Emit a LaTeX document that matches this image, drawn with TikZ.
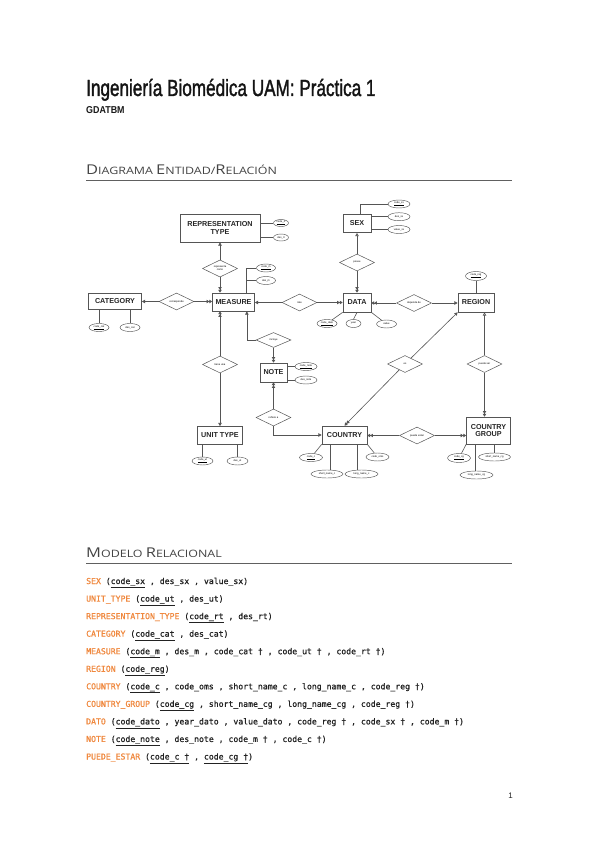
\documentclass[tikz,border=0pt]{standalone}
\usepackage{fontspec}
\setmainfont{Liberation Sans}
\setmonofont[FakeBold=0.9]{DejaVu Sans Mono}
\newfontfamily\headfont{Open Sans}
\newfontfamily\titlefont[FakeBold=1.8]{Liberation Sans}
\usetikzlibrary{shapes.geometric,arrows.meta}
\definecolor{kw}{HTML}{F0883E}
\definecolor{txt}{HTML}{222222}
\definecolor{ln}{HTML}{555555}
\definecolor{hd}{HTML}{444444}
\newcommand{\myul}[1]{\underline{#1}}
\newcommand{\schd}[2]{{\fontsize{13.5}{14}\selectfont #1}{\fontsize{10.2}{11}\selectfont #2}}
\begin{document}
\begin{tikzpicture}[x=1pt,y=-1pt,
  ent/.style={draw=ln, line width=0.7pt, fill=white, inner sep=0pt, font=\fontsize{7.2}{7.8}\selectfont\bfseries, text=black!85, align=center},
  att/.style={ellipse, draw=ln, line width=0.45pt, fill=white, inner sep=0pt, minimum height=8pt, minimum width=20pt, font=\fontsize{2.6}{3}\selectfont},
  rel/.style={diamond, draw=ln, line width=0.5pt, fill=white, inner sep=0pt, minimum width=35pt, minimum height=17pt, font=\fontsize{2.6}{3}\selectfont, align=center},
  con/.style={draw=ln, line width=0.6pt},
  toone/.style={con, -{Triangle[length=3.2pt,width=3.4pt]}},
  toopen/.style={con, -{Triangle[open,length=3.2pt,width=3.4pt]}},
  tomany/.style={con, -{Triangle[length=2.8pt,width=3.4pt]Triangle[length=2.8pt,width=3.4pt]}},
  rm/.style={anchor=base west, inner sep=0pt, font=\ttfamily\fontsize{8.15}{9}\selectfont, text=txt},
  rule/.style={draw=gray!75!black, line width=0.8pt},
]
\fill[white] (0,0) rectangle (599,848);
\useasboundingbox (0,0) rectangle (599,848);

% ---------- header ----------
\node[anchor=base west, inner sep=0pt, font=\titlefont\fontsize{23.3}{24}\selectfont, text=black!92] (title) at (86,96)
  {\scalebox{0.735}[1]{Ingeniería Biomédica UAM: Práctica 1}};
\node[anchor=base west, inner sep=0pt, font=\fontsize{10}{11}\selectfont\bfseries, text=black!90] (sub) at (86,113.5)
  {\scalebox{0.89}[1]{GDATBM}};
\node[anchor=base west, inner sep=0pt, font=\headfont, text=hd] (h1) at (86,174.5)
  {\scalebox{1.22}[1]{\schd{D}{IAGRAMA} \schd{E}{NTIDAD/}\schd{R}{ELACIÓN}}};
\draw[rule] (86,180) -- (512,180);

% ---------- entities ----------
\node[ent, minimum width=80pt, minimum height=28pt] (rt) at (220,228) {REPRESENTATION\\TYPE};
\node[ent, minimum width=28pt, minimum height=18pt] (sx) at (357,223.5) {SEX};
\node[ent, minimum width=53pt, minimum height=16pt] (cat) at (115,301) {CATEGORY};
\node[ent, minimum width=42pt, minimum height=18pt] (ms) at (233.5,302) {MEASURE};
\node[ent, minimum width=28pt, minimum height=19pt] (dt) at (357,302.5) {DATA};
\node[ent, minimum width=36pt, minimum height=19pt] (rg) at (476,302.5) {REGION};
\node[ent, minimum width=27pt, minimum height=19pt] (nt) at (273.5,372.5) {NOTE};
\node[ent, minimum width=45pt, minimum height=18pt] (ut) at (220,435.5) {UNIT TYPE};
\node[ent, minimum width=45pt, minimum height=18pt] (ct) at (344.5,435) {COUNTRY};
\node[ent, minimum width=44pt, minimum height=27pt] (cg) at (488.5,430.5) {COUNTRY\\GROUP};

% ---------- relationships ----------
\node[rel] (rc) at (220,268.5) {representa\\como};
\node[rel] (cor) at (176.5,301.5) {corresponde};
\node[rel] (rate) at (299.5,302.5) {rate};
\node[rel] (ps) at (357,262.5) {posee};
\node[rel] (dep) at (414,303) {depende de};
\node[rel, minimum height=15pt] (inc) at (273.5,340) {incluye};
\node[rel] (tu) at (220,364.5) {tiene una};
\node[rel] (ref) at (273.5,417.5) {refiere a};
\node[rel] (es) at (405,364) {es};
\node[rel] (pser) at (484.5,364) {puede ser};
\node[rel] (pe) at (417,435.5) {puede estar};

% ---------- attributes ----------
\node[att, minimum width=15pt, minimum height=7pt] (crt) at (281,223) {\myul{code\_rt}};
\node[att, minimum width=15pt, minimum height=7pt] (drt) at (281,237.5) {des\_rt};
\node[att, minimum width=19pt] (cm) at (266,268) {\myul{code\_m}};
\node[att, minimum width=19pt] (dm) at (266,280.5) {des\_m};
\node[att] (ccat) at (99,327.5) {\myul{code\_cat}};
\node[att] (dcat) at (130,327.5) {des\_cat};
\node[att, minimum width=22pt] (csx) at (399,204) {\myul{code\_sx}};
\node[att, minimum width=22pt] (dsx) at (399,216.7) {des\_sx};
\node[att, minimum width=22pt] (vsx) at (399,229.5) {value\_sx};
\node[att] (cdato) at (327,323.5) {\myul{code\_dato}};
\node[att, minimum width=15pt] (yr) at (353.5,323.5) {year};
\node[att] (val) at (386.5,324) {value};
\node[att, minimum width=21pt, minimum height=9pt] (creg) at (476,276) {\myul{code\_reg}};
\node[att, minimum width=22pt] (cnote) at (306,366.5) {\myul{code\_note}};
\node[att, minimum width=22pt] (dnote) at (306,380) {des\_note};
\node[att, minimum width=21pt] (cut) at (202.5,461) {\myul{code\_ut}};
\node[att, minimum width=21pt] (dut) at (237.5,461) {des\_ut};
\node[att, minimum width=23pt] (cc) at (311,457.5) {\myul{code\_c}};
\node[att, minimum width=32pt] (snc) at (327,474) {short\_name\_c};
\node[att, minimum width=33pt] (lnc) at (361.5,474) {long\_name\_c};
\node[att, minimum width=23pt] (coms) at (377.5,457) {code\_oms};
\node[att, minimum width=23pt, minimum height=9pt] (ccg) at (459,458) {\myul{code\_cg}};
\node[att, minimum width=33pt] (lncg) at (476.5,475) {long\_name\_cg};
\node[att, minimum width=32pt] (sncg) at (494.5,457) {short\_name\_cg};

% ---------- attribute links ----------
\draw[con] (rt.east |- crt) -- (crt.west);
\draw[con] (rt.east |- drt) -- (drt.west);
\coordinate (mj) at (246.7,293);
\draw[con] (cm.west) -| (mj);
\draw[con] (dm.west) -- (dm.west -| mj);
\draw[con] (cat.south -| ccat) -- (ccat.north);
\draw[con] (cat.south -| dcat) -- (dcat.north);
\coordinate (sj) at (360.7,214.5);
\draw[con] (csx.west) -| (sj);
\draw[con] (sx.east |- dsx) -- (dsx.west);
\draw[con] (sx.east |- vsx) -- (vsx.west);
\draw[con] (dt.south west) -- (cdato);
\draw[con] (dt.south) -- (yr.north);
\draw[con] (dt.south east) -- (val);
\draw[con] (rg.north -| creg) -- (creg.south);
\draw[con] (nt.east |- cnote) -- (cnote.west);
\draw[con] (nt.east |- dnote) -- (dnote.west);
\draw[con] (ut.south -| cut) -- (cut.north);
\draw[con] (ut.south -| dut) -- (dut.north);
\draw[con] (ct.south west) -- (cc);
\draw[con] ([xshift=-13.8pt]ct.south) -- ([xshift=-13.8pt]ct.south |- snc.north);
\draw[con] ([xshift=13.2pt]ct.south) -- ([xshift=13.2pt]ct.south |- lnc.north);
\draw[con] (ct.south east) -- (coms);
\draw[con] (cg.south west) -- (ccg);
\draw[con] ([xshift=-13.5pt]cg.south) -- ([xshift=-13.5pt]cg.south |- lncg.north);
\draw[con] (cg.south -| sncg) -- (sncg.north);

% ---------- relationship links ----------
\draw[toone] (rc.north) -- (rc.north |- rt.south);
\draw[tomany] (rc.south) -- (rc.south |- ms.north);
\draw[toone] (cor.west) -- (cor.west -| cat.east);
\draw[tomany] (cor.east) -- (cor.east -| ms.west);
\draw[toone] (rate.west) -- (rate.west -| ms.east);
\draw[tomany] (rate.east) -- (rate.east -| dt.west);
\draw[toopen] (ps.north) -- (ps.north |- sx.south);
\draw[tomany] (ps.south) -- (ps.south |- dt.north);
\draw[tomany] (dep.west) -- (dep.west -| dt.east);
\draw[toone] (dep.east) -- (dep.east -| rg.west);
\draw[toone] (inc.west) -| ([xshift=-8pt]ms.south east);
\draw[tomany] (inc.south) -- (inc.south |- nt.north);
\draw[tomany] (ref.north) -- (ref.north |- nt.south);
\draw[toone] (ref.south) |- (ct.west);
\draw[tomany] (tu.north) -- (tu.north |- ms.south);
\draw[toone] (tu.south) -- (tu.south |- ut.north);
\draw[tomany] (es) -- (ct.north);
\draw[toone] (es) -- (rg.south west);
\draw[toopen] (pser.north) -- (pser.north |- rg.south);
\draw[tomany] (pser.south) -- (pser.south |- cg.north);
\draw[tomany] (pe.west) -- (pe.west -| ct.east);
\draw[tomany] (pe.east) -- (pe.east -| cg.west);

% ---------- relational model ----------
\node[anchor=base west, inner sep=0pt, font=\headfont, text=hd] (h2) at (86,557)
  {\scalebox{1.22}[1]{\schd{M}{ODELO} \schd{R}{ELACIONAL}}};
\draw[rule] (86,563) -- (512,563);

\node[rm] (r1) at (86,584) {\textcolor{kw}{SEX} (\myul{code\_sx} , des\_sx , value\_sx)};
\node[rm] (r2) at (86,601.55) {\textcolor{kw}{UNIT\_TYPE} (\myul{code\_ut} , des\_ut)};
\node[rm] (r3) at (86,619.1) {\textcolor{kw}{REPRESENTATION\_TYPE} (\myul{code\_rt} , des\_rt)};
\node[rm] (r4) at (86,636.65) {\textcolor{kw}{CATEGORY} (\myul{code\_cat} , des\_cat)};
\node[rm] (r5) at (86,654.2) {\textcolor{kw}{MEASURE} (\myul{code\_m} , des\_m , code\_cat † , code\_ut † , code\_rt †)};
\node[rm] (r6) at (86,671.75) {\textcolor{kw}{REGION} (\myul{code\_reg})};
\node[rm] (r7) at (86,689.3) {\textcolor{kw}{COUNTRY} (\myul{code\_c} , code\_oms , short\_name\_c , long\_name\_c , code\_reg †)};
\node[rm] (r8) at (86,706.85) {\textcolor{kw}{COUNTRY\_GROUP} (\myul{code\_cg} , short\_name\_cg , long\_name\_cg , code\_reg †)};
\node[rm] (r9) at (86,724.4) {\textcolor{kw}{DATO} (\myul{code\_dato} , year\_dato , value\_dato , code\_reg † , code\_sx † , code\_m †)};
\node[rm] (r10) at (86,741.95) {\textcolor{kw}{NOTE} (\myul{code\_note} , des\_note , code\_m † , code\_c †)};
\node[rm] (r11) at (86,759.5) {\textcolor{kw}{PUEDE\_ESTAR} (\myul{code\_c †} , \myul{code\_cg †})};

\node[anchor=base east, inner sep=0pt, font=\fontsize{8}{9}\selectfont, text=txt] (pg) at (513,798) {1};
\end{tikzpicture}
\end{document}
